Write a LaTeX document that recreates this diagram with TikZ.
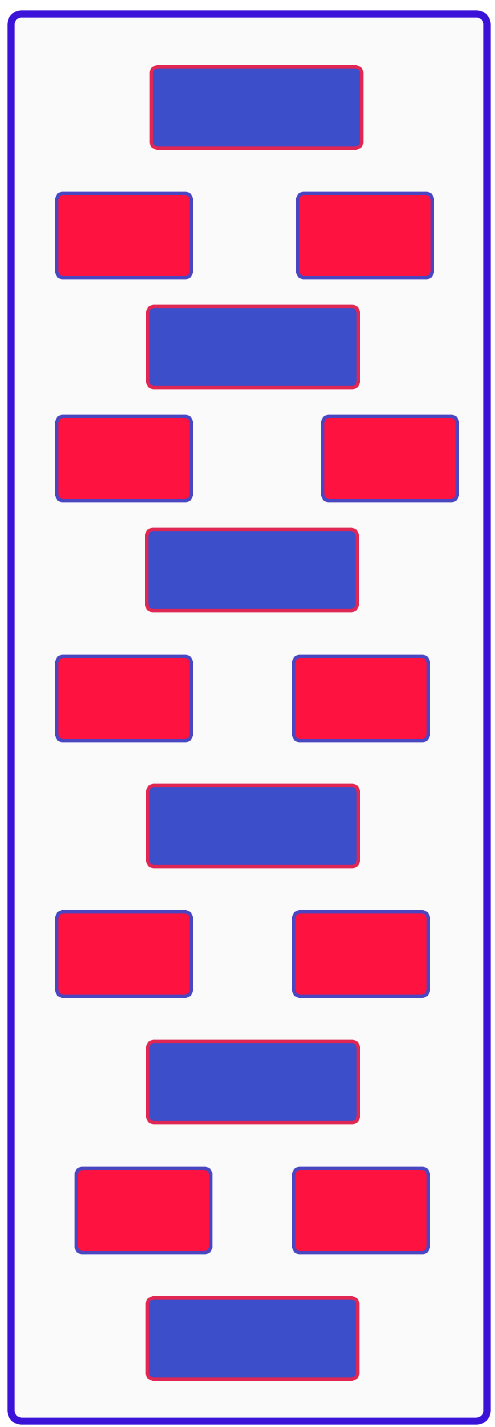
\documentclass[tikz,border=0pt]{standalone}
\usepackage{xcolor}
\usepackage{tikz}
\usetikzlibrary{positioning, backgrounds}

\definecolor{framecol}{HTML}{3A12D8}
\definecolor{bluefill}{HTML}{3D4ECB}
\definecolor{blueline}{HTML}{4A46C2}
\definecolor{redfill}{HTML}{FD1240}
\definecolor{redline}{HTML}{E02652}
\definecolor{panelbg}{HTML}{FAFAFA}

\begin{document}
\begin{tikzpicture}[
    x=0.025cm, y=-0.025cm,
    panel/.style={draw=framecol, fill=panelbg, line width=5pt, rounded corners=7pt},
    box/.style={draw, rounded corners=4pt, line width=2.4pt, inner sep=0pt},
    midbox/.style={box, fill=bluefill, draw=redline, minimum width=5.26cm, minimum height=2.03cm},
    sidebox/.style={box, fill=redfill, draw=blueline, minimum width=3.36cm, minimum height=2.11cm},
]
\useasboundingbox (0,0) rectangle (494,1427);

% === Frame ===
\draw[panel] (11,14) rectangle (487,1421);

% === Middle column ===
\node[midbox] (m1) at (256.5,107.5) {};
\node[midbox] (m2) at (253,347) {};
\node[midbox] (m3) at (252,570) {};
\node[midbox] (m4) at (253,826) {};
\node[midbox] (m5) at (253,1082) {};
\node[midbox] (m6) at (252.5,1338.5) {};

% === Side pairs ===
\node[sidebox] (l1) at (124,235.5) {};
\node[sidebox] (r1) at (365,235.5) {};
\node[sidebox] (l2) at (124,458.5) {};
\node[sidebox] (r2) at (390,458.5) {};
\node[sidebox] (l3) at (124,698.5) {};
\node[sidebox] (r3) at (361,698.5) {};
\node[sidebox] (l4) at (124,954) {};
\node[sidebox] (r4) at (361,954) {};
\node[sidebox] (l5) at (143.5,1210.5) {};
\node[sidebox] (r5) at (361,1210.5) {};

\end{tikzpicture}
\end{document}
